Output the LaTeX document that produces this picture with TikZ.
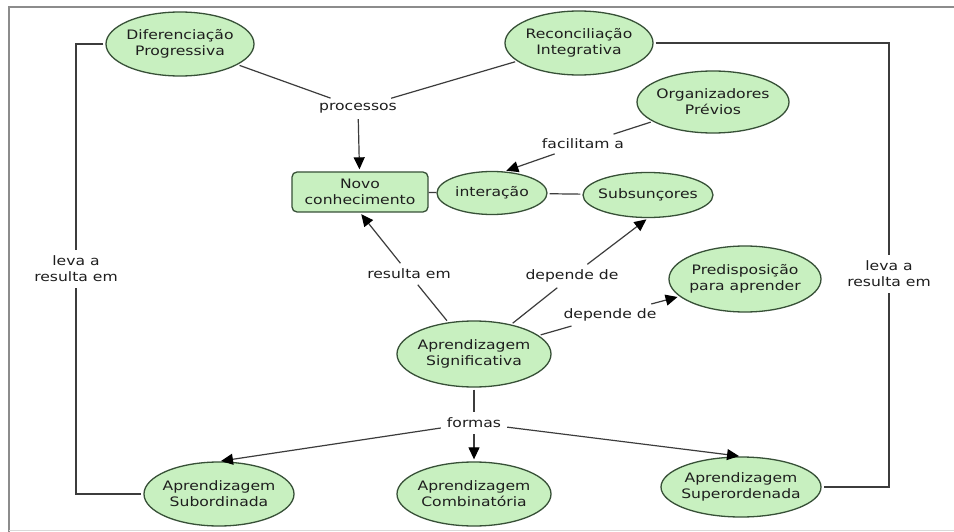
\documentclass[tikz,border=0pt]{standalone}
\usepackage{fontspec}
\setmainfont[FakeStretch=1.2]{DejaVu Sans}
\usetikzlibrary{shapes.geometric,arrows.meta,calc}
\definecolor{cfill}{RGB}{200,240,192}
\definecolor{cbord}{RGB}{55,80,55}
\definecolor{ctext}{RGB}{30,30,30}
\definecolor{cline}{RGB}{60,60,60}
\definecolor{cframe}{RGB}{140,140,140}
\begin{document}
\begin{tikzpicture}[x=1pt,y=-1pt,
 every node/.style={font=\fontsize{13}{15.7}\selectfont, text=ctext},
 concept/.style={ellipse, draw=cbord, fill=cfill, line width=1.3pt, inner xsep=-12pt, inner ysep=0pt, align=center},
 cbox/.style={rectangle, rounded corners=5pt, draw=cbord, fill=cfill, line width=1.3pt, minimum width=136pt, minimum height=40pt, inner sep=0pt, align=center},
 lbl/.style={align=center, inner sep=4pt},
 conn/.style={draw=cline, line width=1.2pt, shorten <=2pt, shorten >=2pt},
 arr/.style={conn, -{Triangle[length=12pt,width=11pt,color=black]}},
]
\useasboundingbox (0,0) rectangle (954,532);
\fill[white] (0,0) rectangle (954,532);
% frame
\draw[cframe, line width=1.5pt] (9,532) -- (9,7) -- (954,7);
\draw[gray!30, line width=1pt] (9,530) -- (954,530);

% concepts
\node[concept, minimum width=148pt, minimum height=64pt] (dif) at (180,44) {Diferenciação\\Progressiva};
\node[concept, minimum width=148pt, minimum height=64pt] (rec) at (579,43) {Reconciliação\\Integrativa};
\node[concept, minimum width=152pt, minimum height=62pt] (org) at (713,102) {Organizadores\\Prévios};
\node[cbox] (novo) at (360,192) {Novo\\conhecimento};
\node[concept, minimum width=110pt, minimum height=43pt] (int) at (492,193) {interação};
\node[concept, minimum width=130pt, minimum height=45pt] (subs) at (648,195) {Subsunçores};
\node[concept, minimum width=152pt, minimum height=66pt] (pred) at (745,279) {Predisposição\\para aprender};
\node[concept, minimum width=154pt, minimum height=66pt] (sig) at (474,354) {Aprendizagem\\Significativa};
\node[concept, minimum width=150pt, minimum height=64pt] (sub) at (219,494) {Aprendizagem\\Subordinada};
\node[concept, minimum width=154pt, minimum height=64pt] (comb) at (474,494) {Aprendizagem\\Combinatória};
\node[concept, minimum width=160pt, minimum height=60pt] (sup) at (741,487) {Aprendizagem\\Superordenada};

% linking phrases
\node[lbl] (proc) at (358,108) {processos};
\node[lbl] (fac) at (583,144) {facilitam a};
\node[lbl] (res) at (409,274) {resulta em};
\node[lbl] (dep1) at (572,276) {depende de};
\node[lbl] (dep2) at (610,315) {depende de};
\node[lbl] (formas) at (474,423) {formas};
\node[lbl] (lvl) at (76,269) {leva a\\resulta em};
\node[lbl] (lvr) at (889,274) {leva a\\resulta em};

% connectors
\draw[conn] (dif) -- (proc);
\draw[conn] (rec) -- (proc);
\draw[arr] (proc) -- (novo);
\draw[conn] (org) -- (fac);
\draw[arr] (fac) -- (int.60);
\draw[conn, shorten <=0pt, shorten >=0pt] (novo) -- (int);
\draw[conn] (int) -- (subs);
\draw[conn] (sig) -- (res);
\draw[arr] (res) -- (novo.south);
\draw[conn] (sig) -- (dep1);
\draw[arr] (dep1) -- (subs.south);
\draw[conn] (sig) -- (dep2);
\draw[arr] (dep2) -- (pred);
\draw[conn] (sig) -- (formas);
\draw[arr] (formas) -- (sub.north);
\draw[arr] (formas) -- (comb);
\draw[arr] (formas) -- (sup.north);
\draw[conn] (dif.west) -| (lvl);
\draw[conn] (lvl) |- (sub.west);
\draw[conn] (rec.east) -| (lvr);
\draw[conn] (lvr) |- (sup.east);
\end{tikzpicture}
\end{document}
